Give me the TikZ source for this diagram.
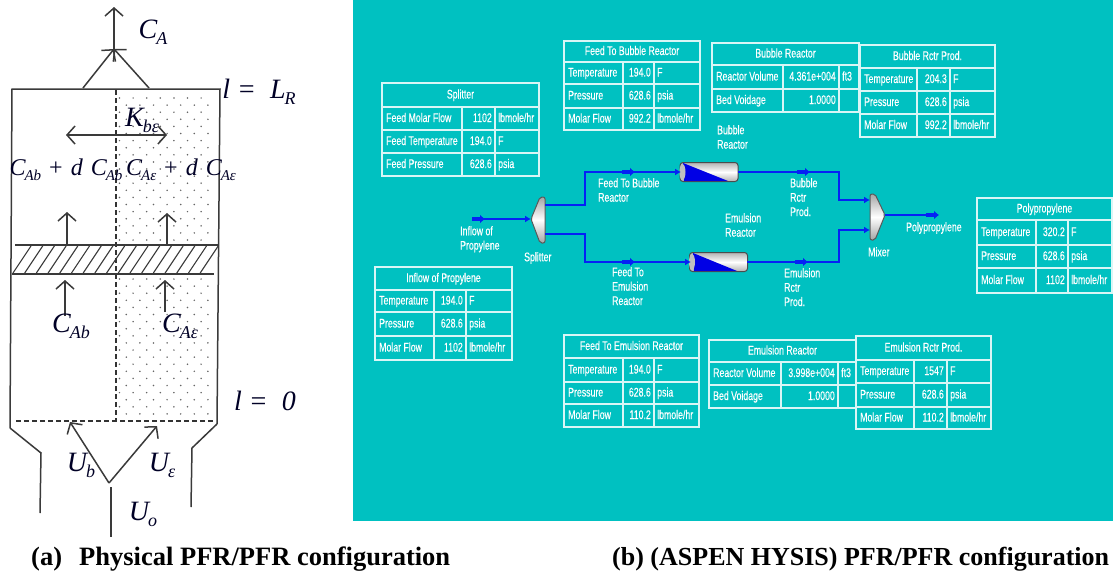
\documentclass[tikz,border=0pt]{standalone}
\usepackage{fontspec}
\setmainfont{Liberation Serif}
\newfontfamily\tbfont[FakeStretch=0.70,FakeBold=0.35]{Liberation Sans}
\usetikzlibrary{arrows.meta}
\definecolor{hysys}{HTML}{00C1C1}
\definecolor{stream}{HTML}{0522F5}
\definecolor{inkc}{HTML}{3A3A3A}
\tikzset{
  wall/.style={draw=inkc,line width=1.5pt},
  dashwall/.style={draw=black!80,line width=1.4pt,dash pattern=on 5pt off 3pt},
  barb/.style={draw=inkc,line width=1.5pt,-{Straight Barb[length=8pt,width=18pt,line width=1.5pt]}},
  barbboth/.style={draw=inkc,line width=1.5pt,{Straight Barb[length=8pt,width=18pt,line width=1.5pt]}-{Straight Barb[length=8pt,width=18pt,line width=1.5pt]}},
  sym/.style={inner sep=0pt,text=black!85!blue},
  tline/.style={draw=white!85!hysys,line width=1.2pt},
  tcell/.style={inner sep=0pt,text=white,font=\tbfont\fontsize{12.5}{14}\selectfont,text height=9pt,text depth=2pt},
  flowtext/.style={inner sep=0pt,text=white,font=\tbfont\fontsize{12.5}{14.4}\selectfont,align=left,anchor=north west},
  stm/.style={draw=stream,line width=2pt,-{Latex[length=6pt,width=7pt]}},
  stmplain/.style={draw=stream,line width=2pt},
  stmmark/.style={draw=stream,line width=4pt,-{Latex[length=5pt,width=9pt]}},
  reactor/.style={minimum width=58pt,minimum height=19pt,inner sep=0pt,rounded corners=3pt,draw=black!70,line width=1pt,top color=gray!60,bottom color=gray!60,middle color=white},
  captext/.style={inner sep=0pt,anchor=base west,font=\bfseries\fontsize{26.5}{29}\selectfont,text=black},
  captextb/.style={inner sep=0pt,anchor=base west,font=\bfseries\fontsize{26}{29}\selectfont,text=black}
}
% symbol with subscript: size of letter, size of subscript, letter, subscript
\newcommand\sbs[4]{{\fontsize{#1}{#1}\selectfont\itshape #3\kern-1pt\raisebox{-0.22em}{\fontsize{#2}{#2}\selectfont #4}}}
\newcommand\gp{\hspace{8pt}}
\newcommand\tbox[8]{% name,x0,c1,c2,x1,y0,y1,title
  \gdef\xa{#2}\gdef\xb{#3}\gdef\xc{#4}\gdef\xd{#5}%
  \draw[tline] (#2,#6) rectangle (#5,#7);
  \node[tcell,anchor=center] (#1) at ({(#2+#5)/2},{(#6+#7)/2}) {#8};
}
\newcommand\trow[6]{% name,ytop,ybot,label,value,unit
  \draw[tline] (\xa,#2) rectangle (\xb,#3) (\xb,#2) rectangle (\xc,#3) (\xc,#2) rectangle (\xd,#3);
  \node[tcell,anchor=west] (#1a) at (\xa+4,{(#2+#3)/2}) {#4};
  \node[tcell,anchor=east] (#1b) at (\xc-3,{(#2+#3)/2}) {#5};
  \node[tcell,anchor=west] (#1c) at (\xc+3,{(#2+#3)/2}) {#6};
}
\begin{document}
\begin{tikzpicture}[x=1pt,y=-1pt]
\useasboundingbox (0,0) rectangle (1113,570);
\clip (0,0) rectangle (1113,570);
\fill[white] (0,0) rectangle (1113,570);

% ---------- (a) physical configuration ----------
\foreach \i [evaluate=\i as \off using {mod(\i,2)*6.8}] in {0,...,20}
  \foreach \j in {0,...,6}
    \fill[black!60] ({119.5+\off+13.6*\j},{98+7.1*\i}) circle (0.85);
\foreach \i [evaluate=\i as \off using {mod(\i,2)*6.8}] in {0,...,19}
  \foreach \j in {0,...,6}
    \fill[black!60] ({119.5+\off+13.6*\j},{279+7.1*\i}) circle (0.85);

\draw[wall] (10,428) -- (12,89) -- (220,89) -- (217,424);
\draw[wall] (10,428) -- (41,453) -- (40,513);
\draw[wall] (217,424) -- (192,448) -- (191,507);
\draw[dashwall] (116,90) -- (116,421);
\draw[dashwall] (16,421) -- (214,421);
\draw[wall] (15,245) -- (218,245);
\draw[wall] (12,274) -- (214,274);
\foreach \k in {0,...,16}
  \draw[draw=inkc,line width=1.1pt] ({13+11.7*\k},273) -- ({31+11.7*\k},246);

\coordinate (topL) at (83,88);
\coordinate (topR) at (149,88);
\coordinate (join) at (114,49);
\coordinate (outT) at (114,7);
\draw[barb] (join) -- (outT);
\draw[barb] (topL) -- (join);
\draw[barb] (topR) -- (join);
\node[sym] (lblCA) at (153,32) {\sbs{28}{18}{C}{A}};
\node[sym] (lblLR) at (259,92) {\fontsize{28}{28}\selectfont\itshape l =\ \ \sbs{28}{18}{L}{R}};

\coordinate (kL) at (66,135);
\coordinate (kR) at (167,135);
\draw[barbboth] (kL) -- (kR);
\node[sym] (lblK) at (142,120) {\sbs{28}{18}{K}{bε}};
\node[sym] (eqb) at (66,170) {\sbs{24}{15}{C}{Ab}\gp{\fontsize{24}{24}\selectfont +}\gp{\fontsize{24}{24}\selectfont\itshape d}\gp\sbs{24}{15}{C}{Ab}};
\node[sym] (eqe) at (181,170) {\sbs{24}{15}{C}{Aε}\gp{\fontsize{24}{24}\selectfont +}\gp{\fontsize{24}{24}\selectfont\itshape d}\gp\sbs{24}{15}{C}{Aε}};

\coordinate (a1s) at (67,245); \coordinate (a1e) at (67,212);
\coordinate (a2s) at (167,245); \coordinate (a2e) at (167,213);
\coordinate (a3s) at (65,316); \coordinate (a3e) at (65,280);
\coordinate (a4s) at (165,312); \coordinate (a4e) at (165,280);
\draw[barb] (a1s) -- (a1e);
\draw[barb] (a2s) -- (a2e);
\draw[barb] (a3s) -- (a3e);
\draw[barb] (a4s) -- (a4e);
\node[sym] (lblCAb) at (71,326) {\sbs{28}{18}{C}{Ab}};
\node[sym] (lblCAe) at (180,326) {\sbs{28}{18}{C}{Aε}};
\node[sym] (lblL0) at (265,401) {\fontsize{28}{28}\selectfont\itshape l =\ \ 0};

\coordinate (vtx) at (109,483);
\coordinate (inB) at (111,537);
\coordinate (inT) at (111,487);
\coordinate (ub) at (70,422);
\coordinate (ue) at (157,426);
\draw[wall] (inT) -- (inB);
\draw[barb] (vtx) -- (ub);
\draw[barb] (vtx) -- (ue);
\node[sym] (lblUb) at (81,465) {\sbs{28}{18}{U}{b}};
\node[sym] (lblUe) at (162,465) {\sbs{28}{18}{U}{ε}};
\node[sym] (lblUo) at (143,514) {\sbs{28}{18}{U}{o}};

% ---------- (b) HYSYS flowsheet ----------
\fill[hysys] (353,0) rectangle (1113,521);

% equipment
\node[reactor] (bubble) at (709,172) {};
\fill[blue!90!black] (683,163) -- (728,181) -- (684,181) -- cycle;
\node[reactor] (emuls) at (718.5,262) {};
\fill[blue!90!black] (693,253) -- (737,271) -- (694,271) -- cycle;
\fill[gray!50] (bubble.west) ++(3,0) ellipse (3 and 8);
\fill[gray!50] (emuls.west) ++(3,0) ellipse (3 and 8);

\coordinate (splitTip) at (531,219);
\coordinate (splitU) at (545,205);
\coordinate (splitL) at (545,234);
\draw[draw=black!65,line width=1pt,rounded corners=2pt,top color=gray!70,bottom color=gray!70,middle color=white]
  (splitTip) -- (540,197) -- (545,197) -- (545,243) -- (540,243) -- cycle;
\coordinate (mixTip) at (885,215);
\coordinate (mixU) at (870,200);
\coordinate (mixL) at (870,230);
\draw[draw=black!65,line width=1pt,rounded corners=2pt,top color=gray!70,bottom color=gray!70,middle color=white]
  (mixTip) -- (875,194) -- (870,194) -- (870,240) -- (875,240) -- cycle;

% streams
\coordinate (inS) at (472,219);
\coordinate (b1) at (585,205); \coordinate (b2) at (585,172);
\coordinate (e1) at (585,234); \coordinate (e2) at (585,262);
\coordinate (bIn) at (681,172); \coordinate (eIn) at (691,262);
\coordinate (bOut) at (738,172); \coordinate (eOut) at (747,262);
\coordinate (c1) at (839,172); \coordinate (c2) at (839,200);
\coordinate (d1) at (839,262); \coordinate (d2) at (839,230);
\coordinate (outE) at (938,215);
\draw[stm] (inS) -- (splitTip);
\draw[stm] (splitU) -- (b1) -- (b2) -- (bIn);
\draw[stm] (splitL) -- (e1) -- (e2) -- (eIn);
\draw[stm] (bOut) -- (c1) -- (c2) -- (mixU);
\draw[stm] (eOut) -- (d1) -- (d2) -- (mixL);
\draw[stmplain] (mixTip) -- (outE);
% stream markers
\coordinate (m1a) at (472,219); \coordinate (m1b) at (485,219);
\coordinate (m2a) at (622,172); \coordinate (m2b) at (635,172);
\coordinate (m3a) at (622,262); \coordinate (m3b) at (635,262);
\coordinate (m4a) at (797,172); \coordinate (m4b) at (810,172);
\coordinate (m5a) at (795,262); \coordinate (m5b) at (808,262);
\coordinate (m6a) at (926,215); \coordinate (m6b) at (939,215);
\foreach \p in {1,...,6} \draw[stmmark] (m\p a) -- (m\p b);

% flowsheet labels
\node[flowtext] (fInflow) at (460,226) {Inflow of\\Propylene};
\node[flowtext] (fSplit) at (524,252) {Splitter};
\node[flowtext] (fFB) at (598,178) {Feed To Bubble\\Reactor};
\node[flowtext] (fBR) at (717,125) {Bubble\\Reactor};
\node[flowtext] (fER) at (725,213) {Emulsion\\Reactor};
\node[flowtext] (fFE) at (612,267) {Feed To\\Emulsion\\Reactor};
\node[flowtext] (fBP) at (790,178) {Bubble\\Rctr\\Prod.};
\node[flowtext] (fEP) at (784,268) {Emulsion\\Rctr\\Prod.};
\node[flowtext] (fPP) at (906,222) {Polypropylene};
\node[flowtext] (fMx) at (868,247) {Mixer};

% tables
\tbox{tSp}{382}{462}{495}{539}{83}{107}{Splitter}
\trow{tSp1}{107}{130}{Feed Molar Flow}{1102}{lbmole/hr}
\trow{tSp2}{130}{153}{Feed Temperature}{194.0}{F}
\trow{tSp3}{153}{176}{Feed Pressure}{628.6}{psia}

\tbox{tFB}{564}{623}{654}{700}{41}{62}{Feed To Bubble Reactor}
\trow{tFB1}{62}{84}{Temperature}{194.0}{F}
\trow{tFB2}{84}{108}{Pressure}{628.6}{psia}
\trow{tFB3}{108}{130}{Molar Flow}{992.2}{lbmole/hr}

\tbox{tBR}{712}{783}{839}{859}{43}{65}{Bubble Reactor}
\trow{tBR1}{65}{89}{Reactor Volume}{4.361e+004}{ft3}
\trow{tBR2}{89}{112}{Bed Voidage}{1.0000}{}

\tbox{tBP}{860}{917}{950}{995}{45}{68}{Bubble Rctr Prod.}
\trow{tBP1}{68}{91}{Temperature}{204.3}{F}
\trow{tBP2}{91}{114}{Pressure}{628.6}{psia}
\trow{tBP3}{114}{137}{Molar Flow}{992.2}{lbmole/hr}

\tbox{tPP}{977}{1036}{1068}{1112}{198}{220}{Polypropylene}
\trow{tPP1}{220}{245}{Temperature}{320.2}{F}
\trow{tPP2}{245}{268}{Pressure}{628.6}{psia}
\trow{tPP3}{268}{293}{Molar Flow}{1102}{lbmole/hr}

\tbox{tIn}{375}{434}{466}{512}{267}{290}{Inflow of Propylene}
\trow{tIn1}{290}{312}{Temperature}{194.0}{F}
\trow{tIn2}{312}{336}{Pressure}{628.6}{psia}
\trow{tIn3}{336}{360}{Molar Flow}{1102}{lbmole/hr}

\tbox{tFE}{564}{623}{654}{699}{335}{358}{Feed To Emulsion Reactor}
\trow{tFE1}{358}{382}{Temperature}{194.0}{F}
\trow{tFE2}{382}{404}{Pressure}{628.6}{psia}
\trow{tFE3}{404}{427}{Molar Flow}{110.2}{lbmole/hr}

\tbox{tER}{709}{781}{838}{856}{340}{362}{Emulsion Reactor}
\trow{tER1}{362}{385}{Reactor Volume}{3.998e+004}{ft3}
\trow{tER2}{385}{408}{Bed Voidage}{1.0000}{}

\tbox{tEP}{856}{914}{947}{991}{336}{360}{Emulsion Rctr Prod.}
\trow{tEP1}{360}{383}{Temperature}{1547}{F}
\trow{tEP2}{383}{407}{Pressure}{628.6}{psia}
\trow{tEP3}{407}{429}{Molar Flow}{110.2}{lbmole/hr}

% captions
\node[captext] (capA1) at (31,565) {(a)};
\node[captext] (capA2) at (79,565) {Physical PFR/PFR configuration};
\node[captextb] (capB) at (612,565) {(b) (ASPEN HYSIS) PFR/PFR configuration};
\end{tikzpicture}
\end{document}
